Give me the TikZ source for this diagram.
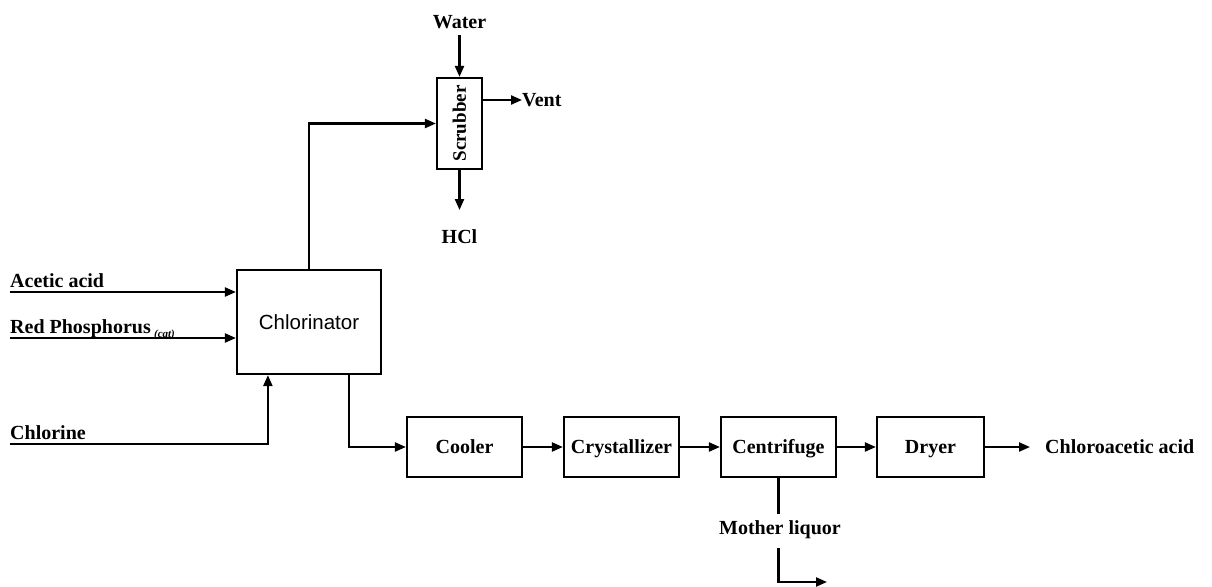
\documentclass[tikz,border=0pt]{standalone}
\usepackage{fontspec}
\setmainfont{Liberation Serif}
\newfontfamily\sansf{Liberation Sans}
\usetikzlibrary{arrows.meta,calc}
\begin{document}
\begin{tikzpicture}[x=1pt,y=-1pt,
  lbl/.style={font=\bfseries\fontsize{20}{24}\selectfont, inner sep=0pt},
  unit/.style={draw, line width=2.2pt, inner sep=0pt, text height=12pt, text depth=0pt, font=\bfseries\fontsize{20}{24}\selectfont},
  flow/.style={line width=2.2pt, -{Triangle[length=11pt,width=9pt]}},
  line/.style={line width=2.2pt}]
\useasboundingbox (0,0) rectangle (1212,586);
% units
\node[unit, minimum width=144pt, minimum height=104pt, text height=14pt, font=\sansf\fontsize{20.5}{24}\selectfont] (chl) at (309,322) {Chlorinator};
\node[unit, minimum width=45pt, minimum height=91pt] (scr) at (459.5,123.5) {};
\node[font=\bfseries\fontsize{19}{22}\selectfont, rotate=90, inner sep=0pt] (scrt) at (scr.center) {Scrubber};
\node[unit, minimum width=115pt, minimum height=60pt] (cool) at (464.5,447) {Cooler};
\node[unit, minimum width=115pt, minimum height=60pt] (crys) at (621.5,447) {Crystallizer};
\node[unit, minimum width=115pt, minimum height=60pt] (cent) at (778.5,447) {Centrifuge};
\node[unit, minimum width=107pt, minimum height=60pt] (dry) at (930.5,447) {Dryer};
% labels
\node[lbl, anchor=base west] (aa) at (10,287) {Acetic acid};
\node[lbl, anchor=base west] (rp) at (10,333) {Red Phosphorus\,\raisebox{-4pt}{\fontsize{11}{13}\selectfont\itshape (cat)}};
\node[lbl, anchor=base west] (cl) at (10,439) {Chlorine};
\node[lbl] (water) at (459.5,22) {Water};
\node[lbl, anchor=west] (vent) at (522,100) {Vent};
\node[lbl] (hcl) at (459.5,237) {HCl};
\node[lbl] (ml) at (780,530) {Mother liquor};
\node[lbl, anchor=west] (prod) at (1045,447) {Chloroacetic acid};
% free ends
\coordinate (a0) at (10,292);
\coordinate (r0) at (10,338);
\coordinate (c0) at (10,444);
\coordinate (w0) at (459.5,35);
\coordinate (h1) at (459.5,210);
\coordinate (p1) at (1030,447);
\coordinate (m1) at (778.5,514);
\coordinate (m2) at (778.5,548);
\coordinate (m3) at (827,582);
% connectors
\draw[flow] (a0) -- (chl.west |- a0);
\draw[flow] (r0) -- (chl.west |- r0);
\draw[flow] (c0) -| ($(chl.south west)+(32,0)$);
\draw[flow] ($(chl.north west)+(73,0)$) |- (scr.west);
\draw[flow] (w0) -- (scr.north);
\draw[flow] (scr.east |- vent.west) -- (vent.west);
\draw[flow] (scr.south) -- (h1);
\draw[flow] ($(chl.south west)+(113,0)$) |- (cool.west);
\draw[flow] (cool) -- (crys);
\draw[flow] (crys) -- (cent);
\draw[flow] (cent) -- (dry);
\draw[flow] (dry.east) -- (p1);
\draw[line] (cent.south) -- (m1);
\draw[flow] (m2) |- (m3);
\end{tikzpicture}
\end{document}
